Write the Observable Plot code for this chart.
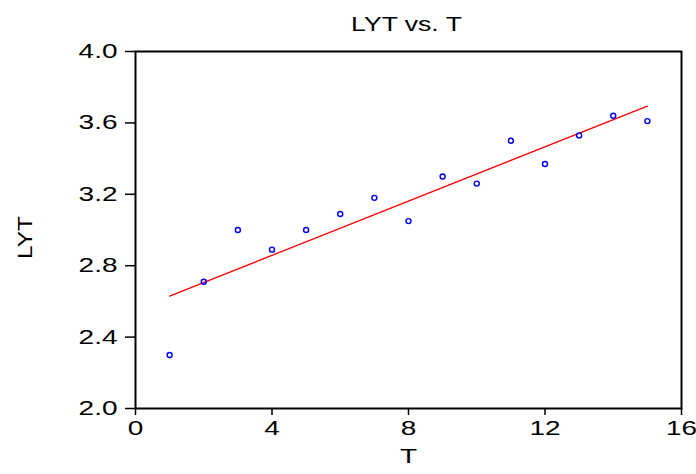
<!DOCTYPE html>
<html><head><meta charset="utf-8">
<script src="https://cdn.jsdelivr.net/npm/d3@7"></script>
<script src="https://cdn.jsdelivr.net/npm/@observablehq/plot@0.6"></script>
<style>body{margin:0;background:#fff}</style>
</head><body><div id="chart"></div>
<script>
const T = [1, 2, 3, 4, 5, 6, 7, 8, 9, 10, 11, 12, 13, 14, 15];
const LYT = [2.30, 2.71, 3.00, 2.89, 3.00, 3.09, 3.18, 3.05, 3.30, 3.26, 3.50, 3.37, 3.53, 3.64, 3.61];
const xTicks = [0, 4, 8, 12, 16];
const yTicks = [2.0, 2.4, 2.8, 3.2, 3.6, 4.0];
const title = "LYT vs. T";
const xLabel = "T";
const yLabel = "LYT";

const data = T.map((t, i) => ({T: t, LYT: LYT[i]}));

const plot = Plot.plot({
  width: 696, height: 474,
  marginLeft: 135, marginRight: 15, marginTop: 51, marginBottom: 66,
  style: {fontFamily: "'Liberation Sans', Arial, sans-serif", fontSize: "20px", background: "white", color: "black"},
  x: {domain: [0, 16], label: null},
  y: {domain: [2, 4], label: null},
  marks: [
    Plot.axisX({ticks: xTicks, tickSize: 7, tickPadding: 5, label: null, fontSize: 20, strokeWidth: 1.5}),
    Plot.axisY({ticks: yTicks, tickSize: 10, tickPadding: 8, label: null, fontSize: 20, strokeWidth: 1.5, tickFormat: d => d.toFixed(1)}),
    Plot.linearRegressionY(data, {x: "T", y: "LYT", stroke: "#ff0000", strokeWidth: 1.3, ci: 0}),
    Plot.dot(data, {x: "T", y: "LYT", r: 2.5, stroke: "#0000ff", strokeWidth: 1.4, fill: "none"}),
    Plot.frame({stroke: "black", strokeWidth: 2}),
    Plot.text([title], {frameAnchor: "top", dx: -2, dy: -35, fontSize: 20, className: "ttl"}),
    Plot.text([xLabel], {frameAnchor: "bottom", dy: 54, fontSize: 20, className: "xl"}),
    Plot.text([yLabel], {frameAnchor: "left", dx: -110, dy: 5, rotate: -90, fontSize: 20, className: "yl"})
  ]
});
document.getElementById("chart").appendChild(plot);

// stretch texts (wrapping each in a scaled group) to match the wide glyphs of the reference
const texts = Array.from(plot.querySelectorAll("text"));
for (const t of texts) {
  const anc = t.closest("[class]");
  const allCls = (anc ? anc.getAttribute("class") : "") + " " + ((t.parentNode.getAttribute && t.parentNode.getAttribute("class")) || "");
  const wrap = document.createElementNS("http://www.w3.org/2000/svg", "g");
  t.parentNode.insertBefore(wrap, t);
  wrap.appendChild(t);
  const bb = wrap.getBBox();
  if (allCls.includes("yl")) {
    // rotated label: stretch along its length, centred on the reference position
    const cy = bb.y + bb.height / 2;
    const target = 232;
    wrap.setAttribute("transform", `translate(0,${target}) scale(1,1.22) translate(0,${-cy})`);
    continue;
  }
  const s = allCls.includes("ttl") ? 1.33 : 1.4;
  const anchor = getComputedStyle(t).textAnchor;
  const cx = anchor === "end" ? bb.x + bb.width : anchor === "middle" ? bb.x + bb.width / 2 : bb.x;
  wrap.setAttribute("transform", `translate(${cx},0) scale(${s},1) translate(${-cx},0)`);
}
</script>
</body></html>
